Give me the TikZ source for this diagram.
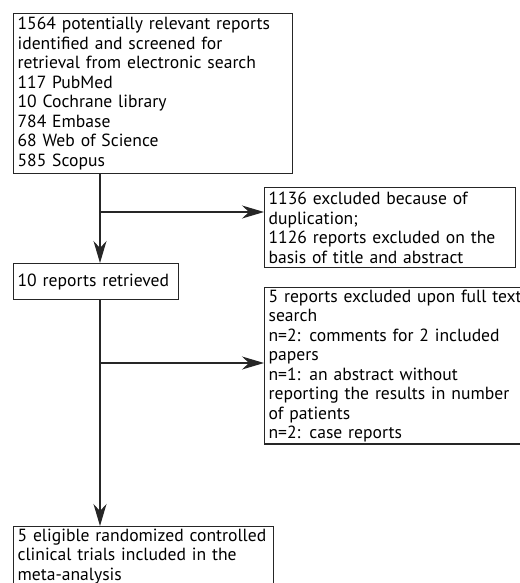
\documentclass[tikz,border=0pt]{standalone}
\usepackage{fontspec}
\setmainfont{PT Sans}
\usetikzlibrary{arrows.meta}
\begin{document}
\begin{tikzpicture}[x=1pt,y=-1pt,
  box/.style={draw=black!85,line width=1.2pt,rectangle,anchor=north west,align=left,
    inner xsep=4pt,inner ysep=2pt,font=\fontsize{17.6}{19.5}\selectfont},
  arr/.style={draw=black!85,line width=1.2pt,-{Stealth[length=22pt,width=13pt,inset=7pt]}}]
\useasboundingbox (0,0) rectangle (519,583);
\node[box,text width=271pt,minimum height=160pt] (b1) at (13,13)
 {1564 potentially relevant reports\\identified and screened for\\retrieval from electronic search\\117 PubMed\\10 Cochrane library\\784 Embase\\68 Web of Science\\585 Scopus};
\node[box,text width=243pt,minimum height=80pt] (b3) at (264,187)
 {1136 excluded because of\\duplication;\\1126 reports excluded on the\\basis of title and abstract};
\node[box,text width=157pt,minimum height=36pt] (b2) at (13,263)
 {10 reports retrieved};
\node[box,text width=272pt,minimum height=156pt] (b4) at (264,287)
 {5 reports excluded upon full text\\search\\n=2: comments for 2 included\\papers\\n=1: an abstract without\\reporting the results in number\\of patients\\n=2: case reports};
\node[box,text width=252pt,minimum height=80pt,anchor=north west] (b5) at (13,526)
 {5 eligible randomized controlled\\clinical trials included in the\\meta-analysis\\\strut};
\coordinate (j1) at (100,212);
\coordinate (j2) at (100,363);
\draw[arr] (b1.south -| j1) -- (b2.north -| j1);
\draw[arr] (j1) -- (j1 -| b3.west);
\draw[arr] (b2.south -| j2) -- (b5.north -| j2);
\draw[arr] (j2) -- (j2 -| b4.west);
\end{tikzpicture}
\end{document}
